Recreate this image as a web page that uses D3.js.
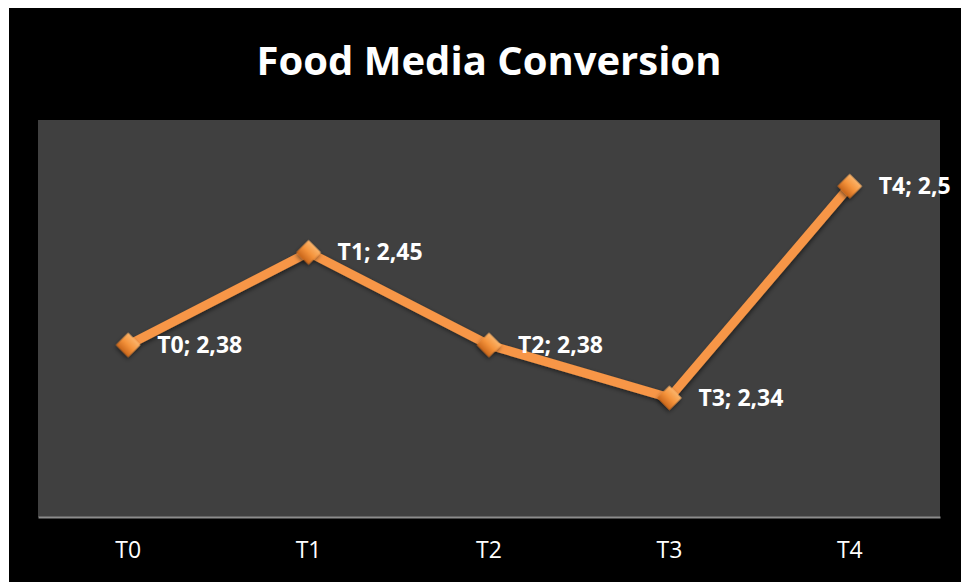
<!DOCTYPE html>
<html>
<head>
<meta charset="utf-8">
<script src="https://cdn.jsdelivr.net/npm/d3@7"></script>
<style>
  body { margin: 0; background: #fff; }
  svg { display: block; }
  text { font-family: "Open Sans", "Liberation Sans", sans-serif; fill: #fff; }
</style>
</head>
<body>
<div id="chart"></div>
<script>
// data
const categories = ['T0', 'T1', 'T2', 'T3', 'T4']
const values = [2.38, 2.45, 2.38, 2.34, 2.5]
const valueLabels = ['2,38', '2,45', '2,38', '2,34', '2,5']
const yDomain = [2.25, 2.55]

const width = 961, height = 582

const svg = d3.select('#chart').append('svg')
  .attr('width', width)
  .attr('height', height)

// black chart area with white margins top / left
svg.append('rect')
  .attr('x', 9).attr('y', 8)
  .attr('width', width - 9).attr('height', height - 8)
  .attr('fill', '#000')

const plot = { left: 38, right: 940, top: 120, bottom: 517 }

svg.append('rect')
  .attr('x', plot.left).attr('y', plot.top)
  .attr('width', plot.right - plot.left)
  .attr('height', plot.bottom - plot.top)
  .attr('fill', '#404040')

const x = d3.scaleBand()
  .domain(categories)
  .range([plot.left, plot.right])

const y = d3.scaleLinear()
  .domain(yDomain)
  .range([plot.bottom, plot.top])

svg.append('text')
  .attr('x', 489).attr('y', 75)
  .attr('text-anchor', 'middle')
  .attr('font-size', 40)
  .attr('font-weight', 'bold')
  .text('Food Media Conversion')

// x axis
const xAxis = svg.append('g')
  .attr('transform', 'translate(0,' + plot.bottom + ')')
  .call(d3.axisBottom(x).tickSize(0).tickPadding(25))

xAxis.select('.domain').attr('stroke', '#8c8c8c').attr('stroke-width', 2)
xAxis.selectAll('text')
  .attr('fill', '#fff')
  .attr('font-size', 23)
  .attr('font-family', '"Open Sans", sans-serif')

const defs = svg.append('defs')
const grad = defs.append('linearGradient')
  .attr('id', 'diam')
  .attr('x1', 0).attr('y1', 0).attr('x2', 0).attr('y2', 1)
grad.append('stop').attr('offset', '0%').attr('stop-color', '#fbb46a')
grad.append('stop').attr('offset', '50%').attr('stop-color', '#f4923a')
grad.append('stop').attr('offset', '100%').attr('stop-color', '#c9661b')

const filt = defs.append('filter').attr('id', 'shadow')
  .attr('x', '-50%').attr('y', '-50%').attr('width', '200%').attr('height', '200%')
filt.append('feDropShadow')
  .attr('dx', 1).attr('dy', 2).attr('stdDeviation', 2)
  .attr('flood-color', '#000').attr('flood-opacity', 0.5)

const pts = categories.map((c, i) => ({ cat: c, v: values[i], lab: valueLabels[i] }))
const cx = d => x(d.cat) + x.bandwidth() / 2

const line = d3.line()
  .x(cx)
  .y(d => y(d.v))

svg.append('path')
  .datum(pts)
  .attr('d', line)
  .attr('fill', 'none')
  .attr('stroke', '#f79646')
  .attr('stroke-width', 9)
  .attr('filter', 'url(#shadow)')

const sym = d3.symbol().type(d3.symbolSquare).size(300)

svg.selectAll('.marker')
  .data(pts)
  .join('path')
  .attr('class', 'marker')
  .attr('d', sym)
  .attr('transform', d => 'translate(' + cx(d) + ',' + y(d.v) + ') rotate(45)')
  .attr('fill', 'url(#diam)')
  .attr('filter', 'url(#shadow)')

svg.selectAll('.dlabel')
  .data(pts)
  .join('text')
  .attr('class', 'dlabel')
  .attr('x', d => cx(d) + 29)
  .attr('y', d => y(d.v) + 2)
  .attr('dominant-baseline', 'middle')
  .attr('font-size', 23)
  .attr('font-weight', 'bold')
  .text(d => d.cat + '; ' + d.lab)
</script>
</body>
</html>
